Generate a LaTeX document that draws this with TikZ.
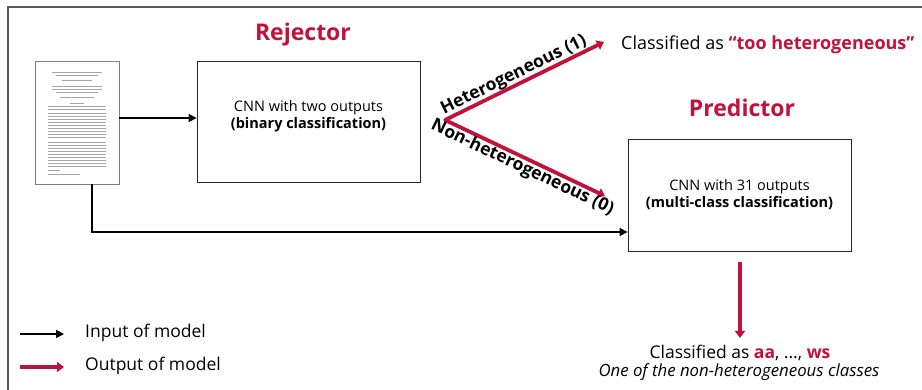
\documentclass[tikz,border=0pt]{standalone}
\usepackage{fontspec}
\setmainfont{Open Sans}
\usetikzlibrary{arrows.meta}
\definecolor{crim}{RGB}{192,18,58}
\definecolor{frame}{RGB}{90,90,90}
\tikzset{
  box/.style={draw=black!85, line width=0.8pt, fill=white, align=center, inner sep=0pt},
  inarrow/.style={draw=black, line width=1.6pt, -{Triangle[length=8pt,width=8pt]}},
  outarrow/.style={draw=crim, line width=3.8pt, -{Triangle[length=7pt,width=10pt]}},
  title/.style={text=crim, font=\bfseries\fontsize{23}{26}\selectfont},
  body/.style={font=\fontsize{17.5}{20}\selectfont, inner sep=0pt},
  boxtxt/.style={font=\fontsize{14.5}{17}\selectfont, align=center, inner sep=0pt},
  lbl/.style={font=\bfseries\fontsize{17.5}{20}\selectfont, inner sep=1pt},
  docline/.style={draw=black!35, line width=0.6pt}
}
\begin{document}
\begin{tikzpicture}[x=1pt,y=-1pt]
\useasboundingbox (0,0) rectangle (922,390);
\fill[white] (0,0) rectangle (922,390);
% frame
\draw[frame, line width=1.8pt] (8,390) -- (8,7) -- (922,7);
% document thumbnail
\node[draw=black!50, line width=0.8pt, fill=white, minimum width=84, minimum height=123, inner sep=0pt] (doc) at (77,122.5) {};
\foreach \y/\a/\b in {72/52/102,75/56/98,80/62/92,86/52/102,89/52/102,92/56/98,97/60/94,103/70/84,106/48/106,109/48/106}
  \draw[docline] (\a,\y) -- (\b,\y);
\foreach \y in {113,116,119,122,125,128,131,134,137,142,145,148,151,154,157,160,163,166}
  \draw[docline] (48,\y) -- (106,\y);
\draw[docline] (48,170) -- (60,170);
\draw[docline] (48,174) -- (80,174);
% Rejector
\node[title] (rejt) at (303,35) {Rejector};
\node[box, minimum width=223, minimum height=121] (rej) at (308.5,121.5) {};
\node[boxtxt] (rejtxt) at (308.5,116) {CNN with two outputs\\\textbf{(binary classification)}};
% Predictor
\node[title] (predt) at (742,108) {Predictor};
\node[box, minimum width=223, minimum height=112] (pred) at (739.5,195) {};
\node[boxtxt] (predtxt) at (739.5,195) {CNN with 31 outputs\\\textbf{(multi-class classification)}};
% input arrows
\draw[inarrow] (doc.east |- 0,118) -- (rej.west |- 0,118);
\coordinate (corner) at (92,232);
\draw[inarrow] (doc.south -| corner) -- (corner) -- (pred.west |- corner);
% rejector outputs
\coordinate (v) at (445,120);
\coordinate (h1) at (604,42);
\coordinate (h0) at (605,196);
\draw[outarrow] (v) -- (h1);
\draw[outarrow] (v) -- (h0);
\fill[crim] (v) circle (1.9pt);
\path (v) -- (h1) node[pos=0.46, above=0pt, sloped, lbl] (lh) {Heterogeneous (1)};
\path (v) -- (h0) node[pos=0.51, below=0pt, sloped, lbl] (lnh) {Non-heterogeneous (0)};
\node[body, anchor=west, font=\fontsize{18}{20}\selectfont] (too) at (621,45) {Classified as \textcolor{crim}{\textbf{“too heterogeneous”}}};
% predictor output
\coordinate (pd) at (740,262);
\coordinate (pe) at (740,338);
\draw[outarrow] (pd) -- (pe);
\node[body] (cls) at (740,353) {Classified as \textcolor{crim}{\textbf{aa}}, ..., \textcolor{crim}{\textbf{ws}}};
\node[font=\itshape\fontsize{16.8}{19}\selectfont, inner sep=0pt] (clsi) at (739,372) {One of the non-heterogeneous classes};
% legend
\coordinate (la1) at (20,334);
\coordinate (lb1) at (64,334);
\coordinate (la2) at (20,367);
\coordinate (lb2) at (64,367);
\draw[inarrow] (la1) -- (lb1);
\draw[outarrow] (la2) -- (lb2);
\node[body, anchor=west] (lin) at (85,333) {Input of model};
\node[body, anchor=west] (lout) at (85,366) {Output of model};
\end{tikzpicture}
\end{document}
